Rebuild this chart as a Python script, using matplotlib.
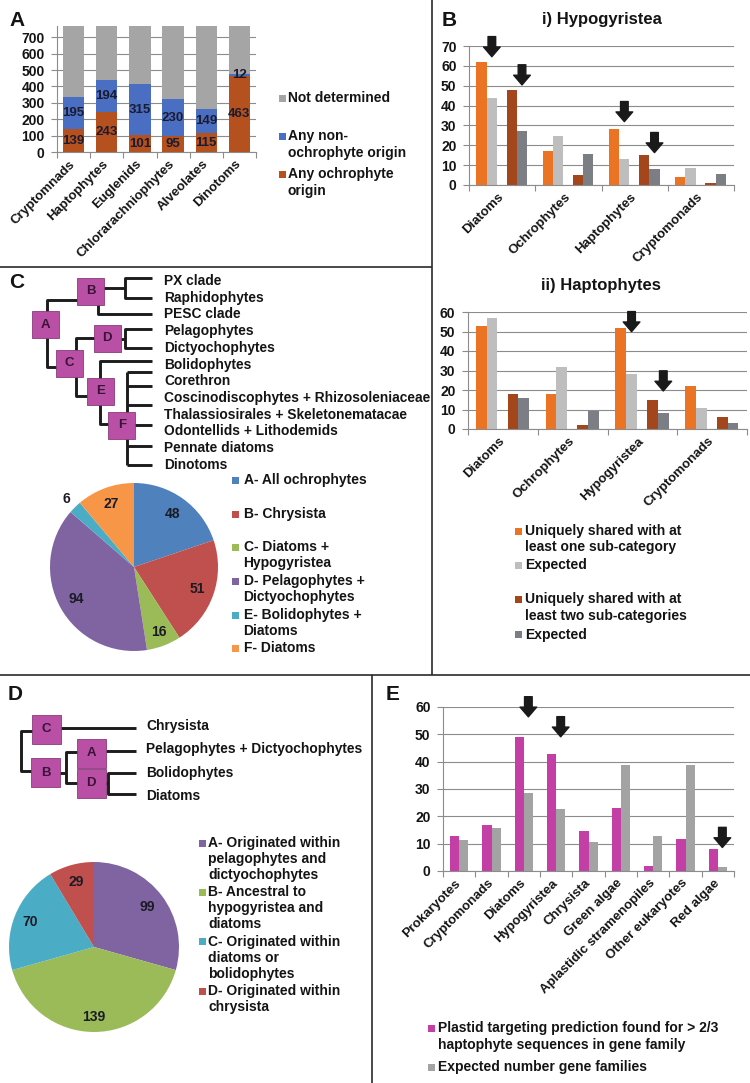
import matplotlib
matplotlib.use('Agg')
import matplotlib.pyplot as plt
import numpy as np
from matplotlib.patches import Rectangle

plt.rcParams['font.family'] = ['Liberation Sans', 'DejaVu Sans']
plt.rcParams['font.weight'] = 'bold'

# ---------------- data ----------------
# Panel A
a_categories = ['Cryptomnads', 'Haptophytes', 'Euglenids', 'Chlorarachniophytes', 'Alveolates', 'Dinotoms']
a_ochrophyte = [139, 243, 101, 95, 115, 463]
a_non_ochrophyte = [195, 194, 315, 230, 149, 12]
a_not_determined = [436, 333, 354, 445, 506, 295]
a_series_names = ['Not determined', 'Any non-\nochrophyte origin', 'Any ochrophyte\norigin']

# Panel B i) Hypogyristea
b1_categories = ['Diatoms', 'Ochrophytes', 'Haptophytes', 'Cryptomonads']
b1_one = [62, 17, 28, 4]
b1_one_exp = [43.6, 24.6, 13.1, 8.6]
b1_two = [48, 5, 15, 1]
b1_two_exp = [27.2, 15.4, 8, 5.4]
b1_arrows = [(0, 1, 64.6), (0, 3, 50.4), (2, 1, 31.9), (2, 3, 16.3)]  # (category, bar slot, tip value)

# Panel B ii) Haptophytes
b2_categories = ['Diatoms', 'Ochrophytes', 'Hypogyristea', 'Cryptomonads']
b2_one = [53, 18, 52, 22]
b2_one_exp = [57, 31.8, 28.2, 10.8]
b2_two = [18, 2, 15, 6]
b2_two_exp = [16, 9, 8, 3]
b2_arrows = [(2, 1, 49.9), (2, 3, 19.5)]
b_series_names = ['Uniquely shared with at\nleast one sub-category', 'Expected',
                  'Uniquely shared with at\nleast two sub-categories', 'Expected']

# Panel C
c_leaves = ['PX clade', 'Raphidophytes', 'PESC clade', 'Pelagophytes', 'Dictyochophytes',
            'Bolidophytes', 'Corethron', 'Coscinodiscophytes + Rhizosoleniaceae',
            'Thalassiosirales + Skeletonematacae', 'Odontellids + Lithodemids',
            'Pennate diatoms', 'Dinotoms']
c_pie_values = [48, 51, 16, 94, 6, 27]
c_pie_names = ['A- All ochrophytes', 'B- Chrysista', 'C- Diatoms +\nHypogyristea',
               'D- Pelagophytes +\nDictyochophytes', 'E- Bolidophytes +\nDiatoms', 'F- Diatoms']

# Panel D
d_leaves = ['Chrysista', 'Pelagophytes + Dictyochophytes', 'Bolidophytes', 'Diatoms']
d_pie_values = [99, 139, 70, 29]
d_pie_names = ['A- Originated within\npelagophytes and\ndictyochophytes',
               'B- Ancestral to\nhypogyristea and\ndiatoms',
               'C- Originated within\ndiatoms or\nbolidophytes',
               'D- Originated within\nchrysista']

# Panel E
e_categories = ['Prokaryotes', 'Cryptomonads', 'Diatoms', 'Hypogyristea', 'Chrysista',
                'Green algae', 'Aplastidic stramenopiles', 'Other eukaryotes', 'Red algae']
e_plastid = [12.9, 16.8, 48.9, 42.8, 14.8, 23, 1.8, 11.8, 7.9]
e_expected = [11.3, 15.6, 28.4, 22.6, 10.5, 38.7, 12.8, 38.7, 1.6]
e_arrows = [(2, 1, 56.4), (3, 1, 49.1), (8, 1, 8.6)]
e_series_names = ['Plastid targeting prediction found for > 2/3\nhaptophyte sequences in gene family',
                  'Expected number gene families']

# ---------------- styles ----------------
A_COLORS = ['#A5A5A5', '#4A6EC1', '#B4511F']
B_COLORS = ['#EB7424', '#BEBEBE', '#A3461C', '#7B7F85']
E_COLORS = ['#C43FA5', '#A3A3A3']
C_COLORS = ['#4F81BD', '#C0504D', '#9BBB59', '#8064A2', '#4BACC6', '#F79646']
D_COLORS = ['#8064A2', '#9BBB59', '#4BACC6', '#C0504D']
GRID = '#8c8c8c'
TXT = '#141414'
BOX = '#B950A5'
FS = 10          # legends
FS_TREE = 9.9    # tree leaf labels
FS_XT = 9.5      # x tick labels
FS_YT = 10       # y tick labels

W, H = 750, 1083
fig = plt.figure(figsize=(7.5, 10.83), dpi=100)
fig.patch.set_facecolor('white')


def px_axes(x0, y0, x1, y1):
    return fig.add_axes([x0 / W, 1 - y1 / H, (x1 - x0) / W, (y1 - y0) / H])


ov = fig.add_axes([0, 0, 1, 1])
ov.set_xlim(0, W)
ov.set_ylim(H, 0)
ov.axis('off')

# panel borders
for (xs, ys) in [((0, 432), (267, 267)), ((432, 432), (0, 675)),
                 ((0, 750), (675, 675)), ((372, 372), (675, 1083))]:
    ov.plot(xs, ys, color='#2a2a2a', lw=1.2, solid_capstyle='butt')

# panel letters
for lab, x, y in [('A', 9, 20), ('B', 442, 20), ('C', 9, 283), ('D', 8, 695), ('E', 386, 695)]:
    ov.text(x, y, lab, fontsize=15, fontweight='bold', color=TXT, ha='left', va='center')


def bar_axes(box, cats, ymax, ytop, ystep):
    ax = px_axes(*box)
    ax.set_facecolor('none')
    n = len(cats)
    ax.set_xlim(-0.5, n - 0.5)
    ax.set_ylim(0, ymax)
    ax.set_yticks(np.arange(0, ytop + 1, ystep))
    ax.set_xticks(np.arange(n))
    ax.set_xticklabels(cats, rotation=45, ha='right', va='center', rotation_mode='anchor',
                       fontsize=FS_XT, fontweight='bold', color=TXT)
    ax.set_xticks(np.arange(n + 1) - 0.5, minor=True)
    ax.tick_params(axis='x', which='major', length=0, pad=7.5)
    ax.tick_params(axis='x', which='minor', length=4, color=GRID, width=0.8, direction='out')
    ax.tick_params(axis='y', length=4, color=GRID, width=0.8, pad=5, labelsize=FS_YT, labelcolor=TXT)
    for t in ax.get_yticklabels():
        t.set_fontweight('bold')
    ax.yaxis.grid(True, color=GRID, lw=0.8)
    ax.set_axisbelow(True)
    for s in ['top', 'right']:
        ax.spines[s].set_visible(False)
    for s in ['left', 'bottom']:
        ax.spines[s].set_color(GRID)
        ax.spines[s].set_linewidth(0.8)
    return ax


def draw_arrow(ax, x, tip):
    ax.annotate('', xy=(x, tip), xytext=(0, 14.5), textcoords='offset points',
                annotation_clip=False,
                arrowprops=dict(arrowstyle='simple,head_length=0.7,head_width=1.2,tail_width=0.55',
                                color='#1a1a1a', shrinkA=0, shrinkB=0, mutation_scale=10,
                                clip_on=False))


def legend_entries(entries, x_sq, x_txt, gap=16, sq=7):
    for color, label, y in entries:
        ov.add_patch(Rectangle((x_sq - sq / 2, y - sq / 2), sq, sq, color=color, lw=0))
        for k, line in enumerate(label.split('\n')):
            ov.text(x_txt, y + k * gap, line, fontsize=FS, fontweight='bold', color=TXT,
                    ha='left', va='center')


# ---------------- Panel A ----------------
axA = bar_axes((57, 25.5, 256, 152), a_categories, 772, 700, 100)
xa = np.arange(len(a_categories))
bw = 0.64
axA.bar(xa, a_ochrophyte, bw, color=A_COLORS[2])
axA.bar(xa, a_non_ochrophyte, bw, bottom=a_ochrophyte, color=A_COLORS[1])
bot2 = np.array(a_ochrophyte) + np.array(a_non_ochrophyte)
axA.bar(xa, a_not_determined, bw, bottom=bot2, color=A_COLORS[0])
for i in range(len(xa)):
    axA.text(xa[i], a_ochrophyte[i] / 2, str(a_ochrophyte[i]), ha='center', va='center',
             fontsize=9.5, fontweight='bold', color='#1b1b30')
    axA.text(xa[i], a_ochrophyte[i] + a_non_ochrophyte[i] / 2, str(a_non_ochrophyte[i]),
             ha='center', va='center', fontsize=9.5, fontweight='bold', color='#1b1b30')
legend_entries([(A_COLORS[0], a_series_names[0], 98),
                (A_COLORS[1], a_series_names[1], 136),
                (A_COLORS[2], a_series_names[2], 174)], 282, 288, gap=17)

# ---------------- Panel B ----------------
B_OFF = [-0.31, -0.155, 0.145, 0.30]
BW = 0.155


def grouped(ax, series, colors):
    x = np.arange(len(series[0]))
    for k, s in enumerate(series):
        ax.bar(x + B_OFF[k], s, BW, color=colors[k])


axB1 = bar_axes((469, 46, 734, 185), b1_categories, 70, 70, 10)
grouped(axB1, [b1_one, b1_one_exp, b1_two, b1_two_exp], B_COLORS)
for c, slot, tip in b1_arrows:
    draw_arrow(axB1, c + B_OFF[slot], tip)
ov.text(602, 19.5, 'i) Hypogyristea', fontsize=12, fontweight='bold', color=TXT, ha='center', va='center')

axB2 = bar_axes((468, 312, 747, 429), b2_categories, 60, 60, 10)
grouped(axB2, [b2_one, b2_one_exp, b2_two, b2_two_exp], B_COLORS)
for c, slot, tip in b2_arrows:
    draw_arrow(axB2, c + B_OFF[slot], tip)
ov.text(601, 285.5, 'ii) Haptophytes', fontsize=12, fontweight='bold', color=TXT, ha='center', va='center')

legend_entries([(B_COLORS[0], b_series_names[0], 531),
                (B_COLORS[1], b_series_names[1], 565),
                (B_COLORS[2], b_series_names[2], 599.5),
                (B_COLORS[3], b_series_names[3], 634.5)], 518.5, 525, gap=16.5)

# ---------------- Panel E ----------------
E_OFF = [-0.14, 0.14]
axE = bar_axes((443, 707, 734, 871), e_categories, 60, 60, 10)
xe = np.arange(len(e_categories))
axE.bar(xe + E_OFF[0], e_plastid, 0.28, color=E_COLORS[0])
axE.bar(xe + E_OFF[1], e_expected, 0.28, color=E_COLORS[1])
for c, slot, tip in e_arrows:
    draw_arrow(axE, c + E_OFF[slot], tip)
legend_entries([(E_COLORS[0], e_series_names[0], 1028),
                (E_COLORS[1], e_series_names[1], 1067)], 431.5, 438.5, gap=16.5)


# ---------------- trees ----------------
def tree(lines, boxes, size, leaves, lx, ly):
    for pts in lines:
        xs, ys = zip(*pts)
        ov.plot(xs, ys, color='#1c1c1c', lw=2.1, solid_joinstyle='round',
                solid_capstyle='butt', zorder=2)
    for lab, (cx, cy) in boxes.items():
        ov.add_patch(Rectangle((cx - size / 2, cy - size / 2), size, size, facecolor=BOX,
                               edgecolor='#8a3a7c', lw=0.6, zorder=3))
        ov.text(cx, cy, lab, fontsize=9.5, fontweight='bold', color='#3a1438',
                ha='center', va='center', zorder=4)
    for name, y in zip(leaves, ly):
        ov.text(lx, y, name, fontsize=FS_TREE, fontweight='bold', color=TXT, ha='left', va='center')


c_ly = [281 + i * 16.7 for i in range(len(c_leaves))]
f_lines_y = [371.5, 386, 405, 425, 446, 465]
c_lines = [
    [(152, 277.5), (125, 277.5), (125, 298), (152, 298)],
    [(100, 288), (125, 288)],
    [(98, 300), (98, 313.5), (152, 313.5)],
    [(46.7, 315), (46.7, 300), (85, 300)],
    [(46.7, 330), (46.7, 366.7), (62, 366.7)],
    [(76, 356), (76, 338), (100, 338)],
    [(114, 338.5), (125, 338.5)],
    [(152, 329), (125, 329), (125, 348), (152, 348)],
    [(76, 370), (76, 396), (92, 396)],
    [(100, 385), (100, 361), (152, 361)],
    [(100, 398), (100, 424), (112, 424)],
    [(126.7, f_lines_y[0]), (126.7, f_lines_y[-1])],
] + [[(126.7, y), (152, y)] for y in f_lines_y]
c_boxes = {'B': (90.5, 291.5), 'A': (45.5, 324.5), 'C': (69, 363),
           'D': (107.3, 338), 'E': (100.7, 391), 'F': (121.7, 425.3)}
tree(c_lines, c_boxes, 27, c_leaves, 164, c_ly)

d_ly = [726, 749.3, 772.7, 796]
d_lines = [
    [(55, 728.3), (136, 728.3)],
    [(36, 730.7), (20.7, 730.7), (20.7, 771), (36, 771)],
    [(55, 772.7), (65.7, 772.7)],
    [(82, 751.7), (65.7, 751.7), (65.7, 783.3), (82, 783.3)],
    [(100, 750.7), (136, 750.7)],
    [(100, 783.3), (108.3, 783.3)],
    [(136, 773.3), (108.3, 773.3), (108.3, 794.3), (136, 794.3)],
]
d_boxes = {'C': (46.3, 729), 'B': (45.5, 772.7), 'A': (91, 753.3), 'D': (91, 783)}
tree(d_lines, d_boxes, 29, d_leaves, 146, d_ly)


# ---------------- pies ----------------
def pie(cx, cy, r, values, colors, label_r):
    ax = px_axes(cx - r, cy - r, cx + r, cy + r)
    wedges, _ = ax.pie(values, colors=colors, startangle=90, counterclock=False, radius=1,
                       wedgeprops=dict(linewidth=0))
    ax.set_xlim(-1, 1)
    ax.set_ylim(-1, 1)
    ax.set_aspect('equal')
    ax.axis('off')
    for w, v, lr in zip(wedges, values, label_r):
        th = np.deg2rad((w.theta1 + w.theta2) / 2)
        ax.text(lr * np.cos(th), lr * np.sin(th), str(v), ha='center', va='center',
                fontsize=10, fontweight='bold', color='#1b1b25', clip_on=False)
    return ax


pie(134, 567, 84, c_pie_values, C_COLORS, [0.78, 0.8, 0.83, 0.78, 1.14, 0.8])
legend_entries([(C_COLORS[0], c_pie_names[0], 480),
                (C_COLORS[1], c_pie_names[1], 514),
                (C_COLORS[2], c_pie_names[2], 547.3),
                (C_COLORS[3], c_pie_names[3], 581),
                (C_COLORS[4], c_pie_names[4], 615),
                (C_COLORS[5], c_pie_names[5], 648)], 235.5, 243.5, gap=16.2)

pie(94, 947, 85, d_pie_values, D_COLORS, [0.78, 0.82, 0.81, 0.79])
legend_entries([(D_COLORS[0], d_pie_names[0], 843),
                (D_COLORS[1], d_pie_names[1], 892.3),
                (D_COLORS[2], d_pie_names[2], 941.7),
                (D_COLORS[3], d_pie_names[3], 991)], 202.5, 208.5, gap=16)

fig.savefig('out.png', dpi=100, facecolor='white')
